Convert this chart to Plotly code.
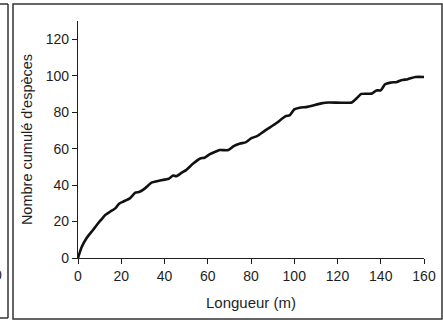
import plotly.graph_objects as go

# Cumulative species count along the transect
longueur_m = [0, 1.7, 4, 7, 10, 12.5, 15, 17.5, 19, 21, 24, 26.5, 28.5, 31, 34, 37, 40,
              42, 44, 45.5, 48, 50, 53, 56.5, 58.5, 61, 63.5, 65.5, 69.5, 72, 75, 77.5,
              80, 83, 86, 89, 92, 96, 98, 100, 102.5, 106, 109, 112.5, 116, 126.5, 129,
              131, 136, 138, 140, 142, 144.5, 147.5, 149.5, 152.5, 156, 160]
nb_especes = [0, 6, 11, 15.5, 20, 23.5, 25.5, 27.5, 29.8, 31, 32.7, 35.8, 36.3, 38.2, 41.3,
              42.2, 43, 43.5, 45.2, 44.9, 46.8, 48.2, 51.5, 54.6, 55, 57, 58.3, 59.2, 59.2,
              61.4, 62.8, 63.4, 65.6, 67, 69.5, 71.8, 74.2, 77.8, 78.4, 81.5, 82.4, 82.9,
              83.8, 84.8, 85.3, 85.3, 87.8, 90, 90.2, 91.9, 92, 95.3, 96.2, 96.6, 97.5,
              98.1, 99.3, 99.3]

x_ticks = [0, 20, 40, 60, 80, 100, 120, 140, 160]
y_ticks = [0, 20, 40, 60, 80, 100, 120]

W, H = 443, 323
L, R, T, B = 78, 19, 21, 65
pw, ph = W - L - R, H - T - B


def px(x):
    return (x - L) / pw


def py(y):
    return (H - B - y) / ph


FONT = "Arial, Liberation Sans, sans-serif"
INK = "#1e1e1e"

fig = go.Figure()
fig.add_trace(go.Scatter(
    x=longueur_m, y=nb_especes, mode="lines",
    line=dict(color="#111111", width=2.6, shape="spline", smoothing=0.5),
    hoverinfo="skip", showlegend=False,
))

axis_common = dict(
    showgrid=False, zeroline=False, showline=True, linecolor=INK, linewidth=1.3,
    ticks="outside", ticklen=5, tickwidth=1.2, tickcolor=INK,
    tickfont=dict(family=FONT, size=14, color=INK),
)

fig.update_xaxes(range=[0, 160], tickvals=x_ticks, ticktext=[str(v) for v in x_ticks],
                 title=dict(text="Longueur (m)", font=dict(family=FONT, size=15, color=INK),
                            standoff=14),
                 **axis_common)
fig.update_yaxes(range=[0, 130], tickvals=y_ticks, ticktext=[str(v) for v in y_ticks],
                 title=dict(text="Nombre cumulé d'espèces",
                            font=dict(family=FONT, size=14.5, color=INK), standoff=9),
                 **axis_common)

frame = dict(color="#333333", width=1.5)
shapes = [
    # main panel frame
    dict(type="rect", xref="paper", yref="paper", x0=px(13), x1=px(442), y0=py(319), y1=py(4),
         line=frame, layer="below"),
    # edge of the neighbouring panel on the left
    dict(type="line", xref="paper", yref="paper", x0=px(8), x1=px(8), y0=py(318), y1=py(4), line=frame),
    dict(type="line", xref="paper", yref="paper", x0=px(-2), x1=px(8), y0=py(4), y1=py(4), line=frame),
    dict(type="line", xref="paper", yref="paper", x0=px(-2), x1=px(8), y0=py(318), y1=py(318), line=frame),
]

annotations = [
    dict(text="0", xref="paper", yref="paper", x=px(4), y=py(275), xanchor="right", yanchor="middle",
         showarrow=False, font=dict(family=FONT, size=14, color=INK)),
]

fig.update_layout(
    width=W, height=H, margin=dict(l=L, r=R, t=T, b=B, autoexpand=False),
    paper_bgcolor="white", plot_bgcolor="white",
    shapes=shapes, annotations=annotations,
)

fig.write_html("out.html")
